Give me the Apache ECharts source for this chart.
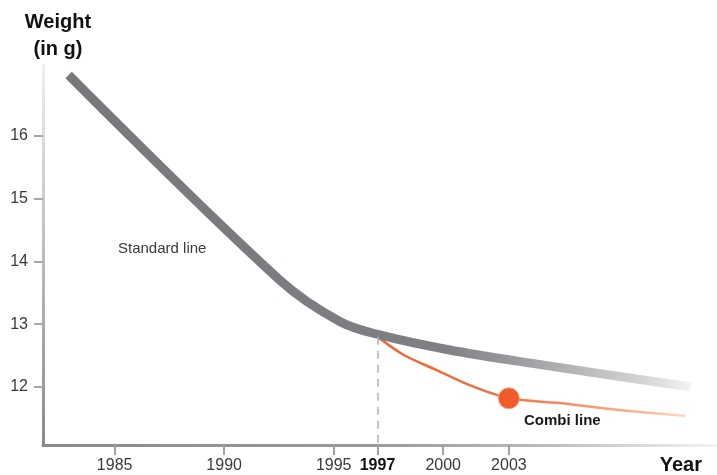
<!DOCTYPE html>
<html>
<head>
<meta charset="utf-8">
<title>Weight (in g)</title>
<script src="https://cdn.jsdelivr.net/npm/echarts@6/dist/echarts.min.js"></script>
<style>
  html, body { margin: 0; padding: 0; background: #ffffff; }
  #chart { width: 717px; height: 475px; }
</style>
</head>
<body>
<div id="chart"></div>
<script>
// Tick positions on both axes
const yearTicks = [1985, 1990, 1995, 1997, 2000, 2003];
const weightTicks = [12, 13, 14, 15, 16];

// Standard line: weight per year
const standardYears   = [1982.9, 1992.55, 1995.3, 1997.1, 2000.3, 2004.0, 2011.3];
const standardWeights = [16.97, 13.70, 13.04, 12.83, 12.59, 12.38, 12.00];

// Combi line: branches off in 1997
const combiYears   = [1997, 1998.2, 1999.7, 2001.2, 2003, 2005.3, 2008.4, 2011.05];
const combiWeights = [12.80, 12.51, 12.27, 12.03, 11.82, 11.745, 11.62, 11.54];
const combiHighlightYear = 2003;

const FONT = "'Liberation Sans', Arial, sans-serif";
const G = echarts.graphic;

const standardData = standardYears.map((y, i) => [y, standardWeights[i]]);
const combiData = combiYears.map((y, i) => {
  const item = { value: [y, combiWeights[i]] };
  if (y === combiHighlightYear) {
    item.symbol = 'circle';
    item.symbolSize = 21;
    item.itemStyle = { color: '#f15a29', borderColor: '#f7a07a', borderWidth: 1 };
  }
  return item;
});

const chart = echarts.init(document.getElementById('chart'), null, { renderer: 'canvas' });

chart.setOption({
  animation: false,
  backgroundColor: '#ffffff',
  grid: { left: 43, right: 0, top: 65, bottom: 30 },
  xAxis: {
    type: 'value',
    min: 1981.73,
    max: 2012.5,
    splitLine: { show: false },
    axisLine: {
      show: true,
      lineStyle: {
        width: 3,
        color: new G.LinearGradient(0, 0, 1, 0, [
          { offset: 0, color: '#8a8a8a' },
          { offset: 0.5, color: '#9a9a9a' },
          { offset: 0.75, color: '#bdbdbd' },
          { offset: 1, color: '#f4f4f4' }
        ])
      }
    },
    axisTick: {
      show: true,
      inside: false,
      length: 10,
      customValues: yearTicks,
      lineStyle: { color: '#a0a0a0', width: 2 }
    },
    axisLabel: {
      customValues: yearTicks,
      margin: 13,
      fontFamily: FONT,
      fontSize: 16,
      color: '#3a3a3a',
      formatter: v => (v === 1997 ? '{b|1997}' : String(v)),
      rich: {
        b: { fontFamily: FONT, fontSize: 16, fontWeight: 'bold', color: '#111111' }
      }
    }
  },
  yAxis: {
    type: 'value',
    min: 11.076,
    max: 17.13,
    splitLine: { show: false },
    axisLine: {
      show: true,
      lineStyle: {
        width: 3,
        color: new G.LinearGradient(0, 0, 0, 1, [
          { offset: 0, color: '#f0f0f0' },
          { offset: 0.3, color: '#d0d0d0' },
          { offset: 0.7, color: '#a8a8a8' },
          { offset: 1, color: '#8a8a8a' }
        ])
      }
    },
    axisTick: {
      show: true,
      inside: false,
      length: 9,
      customValues: weightTicks,
      lineStyle: { color: '#a8a8a8', width: 2 }
    },
    axisLabel: {
      customValues: weightTicks,
      margin: 15,
      fontFamily: FONT,
      fontSize: 16,
      color: '#3a3a3a'
    }
  },
  series: [
    {
      name: 'Combi line',
      type: 'line',
      data: combiData,
      smooth: 0.3,
      symbol: 'none',
      showSymbol: true,
      z: 3,
      lineStyle: {
        width: 2.5,
        color: new G.LinearGradient(0, 0, 1, 0, [
          { offset: 0, color: '#f0652f' },
          { offset: 0.43, color: '#f2733f' },
          { offset: 0.75, color: '#f7a27e' },
          { offset: 1, color: '#fdd8c5' }
        ])
      },
      markLine: {
        silent: true,
        symbol: 'none',
        label: { show: false },
        lineStyle: { color: '#b3b3b3', width: 1.5, type: [8, 6] },
        data: [[
          { coord: [1997, combiWeights[0]] },
          { coord: [1997, 11.076] }
        ]]
      }
    },
    {
      name: 'Standard line',
      type: 'line',
      data: standardData,
      smooth: 0.35,
      symbol: 'none',
      z: 4,
      lineStyle: {
        width: 9,
        cap: 'butt',
        color: new G.LinearGradient(0, 0, 1, 0, [
          { offset: 0, color: '#77787b' },
          { offset: 0.6, color: '#7f8083' },
          { offset: 0.705, color: '#98999c' },
          { offset: 0.81, color: '#b5b6b8' },
          { offset: 0.92, color: '#d5d5d6' },
          { offset: 1, color: '#f6f6f6' }
        ])
      }
    }
  ],
  graphic: [
    {
      type: 'text',
      x: 58, y: 9,
      style: {
        text: 'Weight\n(in g)',
        align: 'center',
        verticalAlign: 'top',
        font: "bold 20px " + FONT,
        lineHeight: 27,
        fill: '#111111'
      }
    },
    {
      type: 'text',
      x: 702, y: 455,
      style: {
        text: 'Year',
        align: 'right',
        verticalAlign: 'top',
        font: "bold 20px " + FONT,
        fill: '#111111'
      }
    },
    {
      type: 'text',
      x: 118, y: 249,
      style: {
        text: 'Standard line',
        align: 'left',
        verticalAlign: 'middle',
        font: "15px " + FONT,
        fill: '#3a3a3a'
      }
    },
    {
      type: 'text',
      x: 524, y: 421,
      style: {
        text: 'Combi line',
        align: 'left',
        verticalAlign: 'middle',
        font: "bold 15px " + FONT,
        fill: '#1a1a1a'
      }
    }
  ]
});
</script>
</body>
</html>
